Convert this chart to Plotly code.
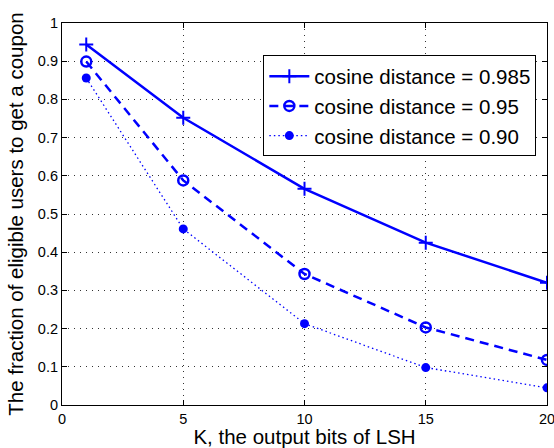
import plotly.graph_objects as go

K = [1, 5, 10, 15, 20]
s985 = [0.944, 0.752, 0.566, 0.425, 0.320]
s95 = [0.899, 0.588, 0.343, 0.203, 0.118]
s90 = [0.856, 0.461, 0.213, 0.098, 0.045]
names = ["cosine distance = 0.985", "cosine distance = 0.95", "cosine distance = 0.90"]
xticks = [0, 5, 10, 15, 20]
yticks = [0, 0.1, 0.2, 0.3, 0.4, 0.5, 0.6, 0.7, 0.8, 0.9, 1]
yticklabels = ["0", "0.1", "0.2", "0.3", "0.4", "0.5", "0.6", "0.7", "0.8", "0.9", "1"]

blue = "#0000FF"
fig = go.Figure()
fig.add_trace(go.Scatter(x=K, y=s985, name=names[0], mode="lines+markers",
                         line=dict(color=blue, width=2.5, dash="solid"),
                         marker=dict(symbol="cross-thin", size=10, line=dict(color=blue, width=2))))
fig.add_trace(go.Scatter(x=K, y=s95, name=names[1], mode="lines+markers",
                         line=dict(color=blue, width=2.5, dash="9px,6px"),
                         marker=dict(symbol="circle-open", size=10, color=blue, line=dict(color=blue, width=2.5))))
fig.add_trace(go.Scatter(x=K, y=s90, name=names[2], mode="lines+markers",
                         line=dict(color=blue, width=1.3, dash="1.5px,3px"),
                         marker=dict(symbol="circle", size=9, color=blue)))

axis_common = dict(showline=True, linecolor="black", linewidth=1.2, mirror="ticks",
                   ticks="inside", ticklen=5, tickcolor="black",
                   showgrid=True, gridcolor="#333333", griddash="1px,5px", gridwidth=1,
                   zeroline=False, tickfont=dict(size=14.5, color="black"), automargin=False,
                   ticklabeloverflow="allow")

fig.update_xaxes(range=[0, 20], tickvals=xticks, ticktext=[str(v) for v in xticks],
                 title=dict(text="K, the output bits of LSH", font=dict(size=20.5, color="black"), standoff=1),
                 **axis_common)
fig.update_yaxes(range=[0, 1], tickvals=yticks, ticktext=yticklabels,
                 title=dict(text="The fraction of eligible users to get a coupon", font=dict(size=20.5, color="black"), standoff=8),
                 **axis_common)

fig.update_layout(
    width=554, height=448,
    margin=dict(l=62, r=7, t=23, b=43),
    paper_bgcolor="white", plot_bgcolor="white",
    font=dict(family="Liberation Sans, Arial, sans-serif", color="black"),
    legend=dict(x=0.978, y=0.915, xanchor="right", yanchor="top",
                bgcolor="white", bordercolor="black", borderwidth=1,
                font=dict(size=20.5, color="black"), tracegroupgap=0, itemwidth=40),
    showlegend=True,
)

fig.write_html("out.html", config={"displayModeBar": False},
               post_script="document.body.style.margin='0px';")
